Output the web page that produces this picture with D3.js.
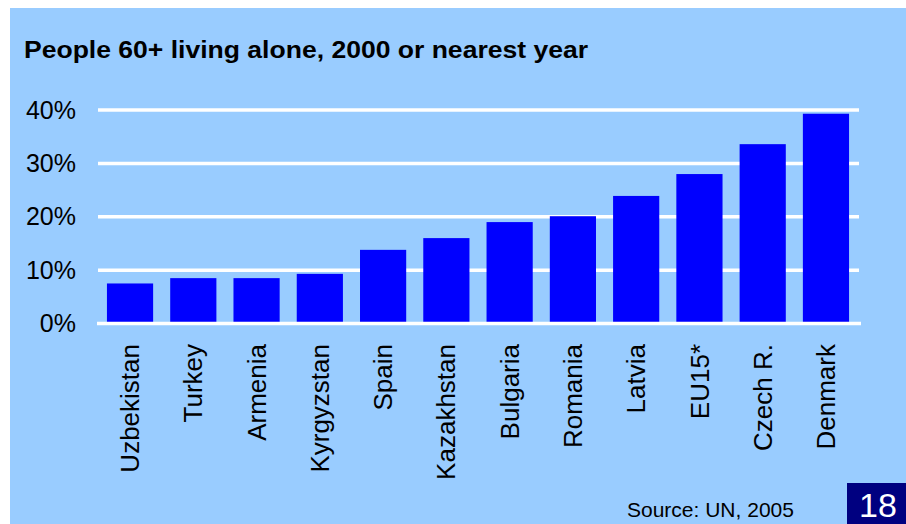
<!DOCTYPE html>
<html>
<head>
<meta charset="utf-8">
<script src="https://cdn.jsdelivr.net/npm/d3@7"></script>
<style>
  body { margin: 0; background: #fff; }
  text { font-family: Arial, "Liberation Sans", sans-serif; }
</style>
</head>
<body>
<svg id="chart"></svg>
<script>
var countries = ["Uzbekistan", "Turkey", "Armenia", "Kyrgyzstan", "Spain", "Kazakhstan",
  "Bulgaria", "Romania", "Latvia", "EU15*", "Czech R.", "Denmark"];
var shares = [7.5, 8.5, 8.5, 9.3, 13.8, 16.0, 19.0, 20.1, 23.9, 28.0, 33.6, 39.3];
var yTicks = [0, 10, 20, 30, 40];

var W = 906, H = 524;
var svg = d3.select("#chart")
  .attr("width", W)
  .attr("height", H);

// light blue panel with thin white border top/left
svg.append("rect")
  .attr("x", 10).attr("y", 8)
  .attr("width", W - 10).attr("height", H - 8)
  .attr("fill", "#99ccff");

svg.append("text")
  .attr("x", 24).attr("y", 58)
  .attr("font-size", "23px")
  .attr("font-weight", "bold")
  .attr("textLength", 564)
  .attr("lengthAdjust", "spacingAndGlyphs")
  .text("People 60+ living alone, 2000 or nearest year");

var x = d3.scaleBand()
  .domain(countries)
  .range([98.4, 857.6])
  .paddingInner(0.27)
  .paddingOuter(0.135);

var y = d3.scaleLinear()
  .domain([0, 40])
  .range([323.5, 110]);

// gridlines
svg.selectAll(".grid")
  .data(yTicks.filter(function(d) { return d > 0; }))
  .enter()
  .append("line")
  .attr("class", "grid")
  .attr("x1", 98).attr("x2", 859)
  .attr("y1", function(d) { return y(d); })
  .attr("y2", function(d) { return y(d); })
  .attr("stroke", "#fff")
  .attr("stroke-width", 3.5);

svg.selectAll(".bar")
  .data(countries)
  .enter()
  .append("rect")
  .attr("class", "bar")
  .attr("x", function(d) { return x(d); })
  .attr("y", function(d, i) { return y(shares[i]); })
  .attr("width", x.bandwidth())
  .attr("height", function(d, i) { return y(0) - y(shares[i]); })
  .attr("fill", "#0000ff");

// zero line on top of bar feet
svg.append("line")
  .attr("x1", 97).attr("x2", 861)
  .attr("y1", y(0)).attr("y2", y(0))
  .attr("stroke", "#fff")
  .attr("stroke-width", 3.5);

// y axis labels
var yAxis = svg.append("g")
  .attr("transform", "translate(76,0)")
  .call(d3.axisLeft(y).tickValues(yTicks).tickSize(0).tickPadding(0)
    .tickFormat(function(d) { return d + "%"; }));
yAxis.select(".domain").remove();
yAxis.selectAll("text")
  .attr("font-family", "Arial, 'Liberation Sans', sans-serif")
  .attr("font-size", "25px")
  .attr("fill", "#000");

// x axis labels, rotated
var xAxis = svg.append("g")
  .attr("transform", "translate(0,344)")
  .call(d3.axisBottom(x).tickSize(0).tickPadding(0));
xAxis.select(".domain").remove();
xAxis.selectAll("text")
  .attr("font-family", "Arial, 'Liberation Sans', sans-serif")
  .attr("font-size", "26px")
  .attr("fill", "#000")
  .attr("transform", "rotate(-90)")
  .attr("text-anchor", "end")
  .attr("x", 0)
  .attr("y", 0)
  .attr("dx", 0)
  .attr("dy", "0.35em");

svg.append("text")
  .attr("x", 627).attr("y", 517)
  .attr("font-size", "21px")
  .text("Source: UN, 2005");

svg.append("rect")
  .attr("x", 847).attr("y", 483)
  .attr("width", 59).attr("height", 41)
  .attr("fill", "#000080");

svg.append("text")
  .attr("x", 878).attr("y", 517)
  .attr("text-anchor", "middle")
  .attr("font-size", "34px")
  .attr("fill", "#fff")
  .text("18");
</script>
</body>
</html>
